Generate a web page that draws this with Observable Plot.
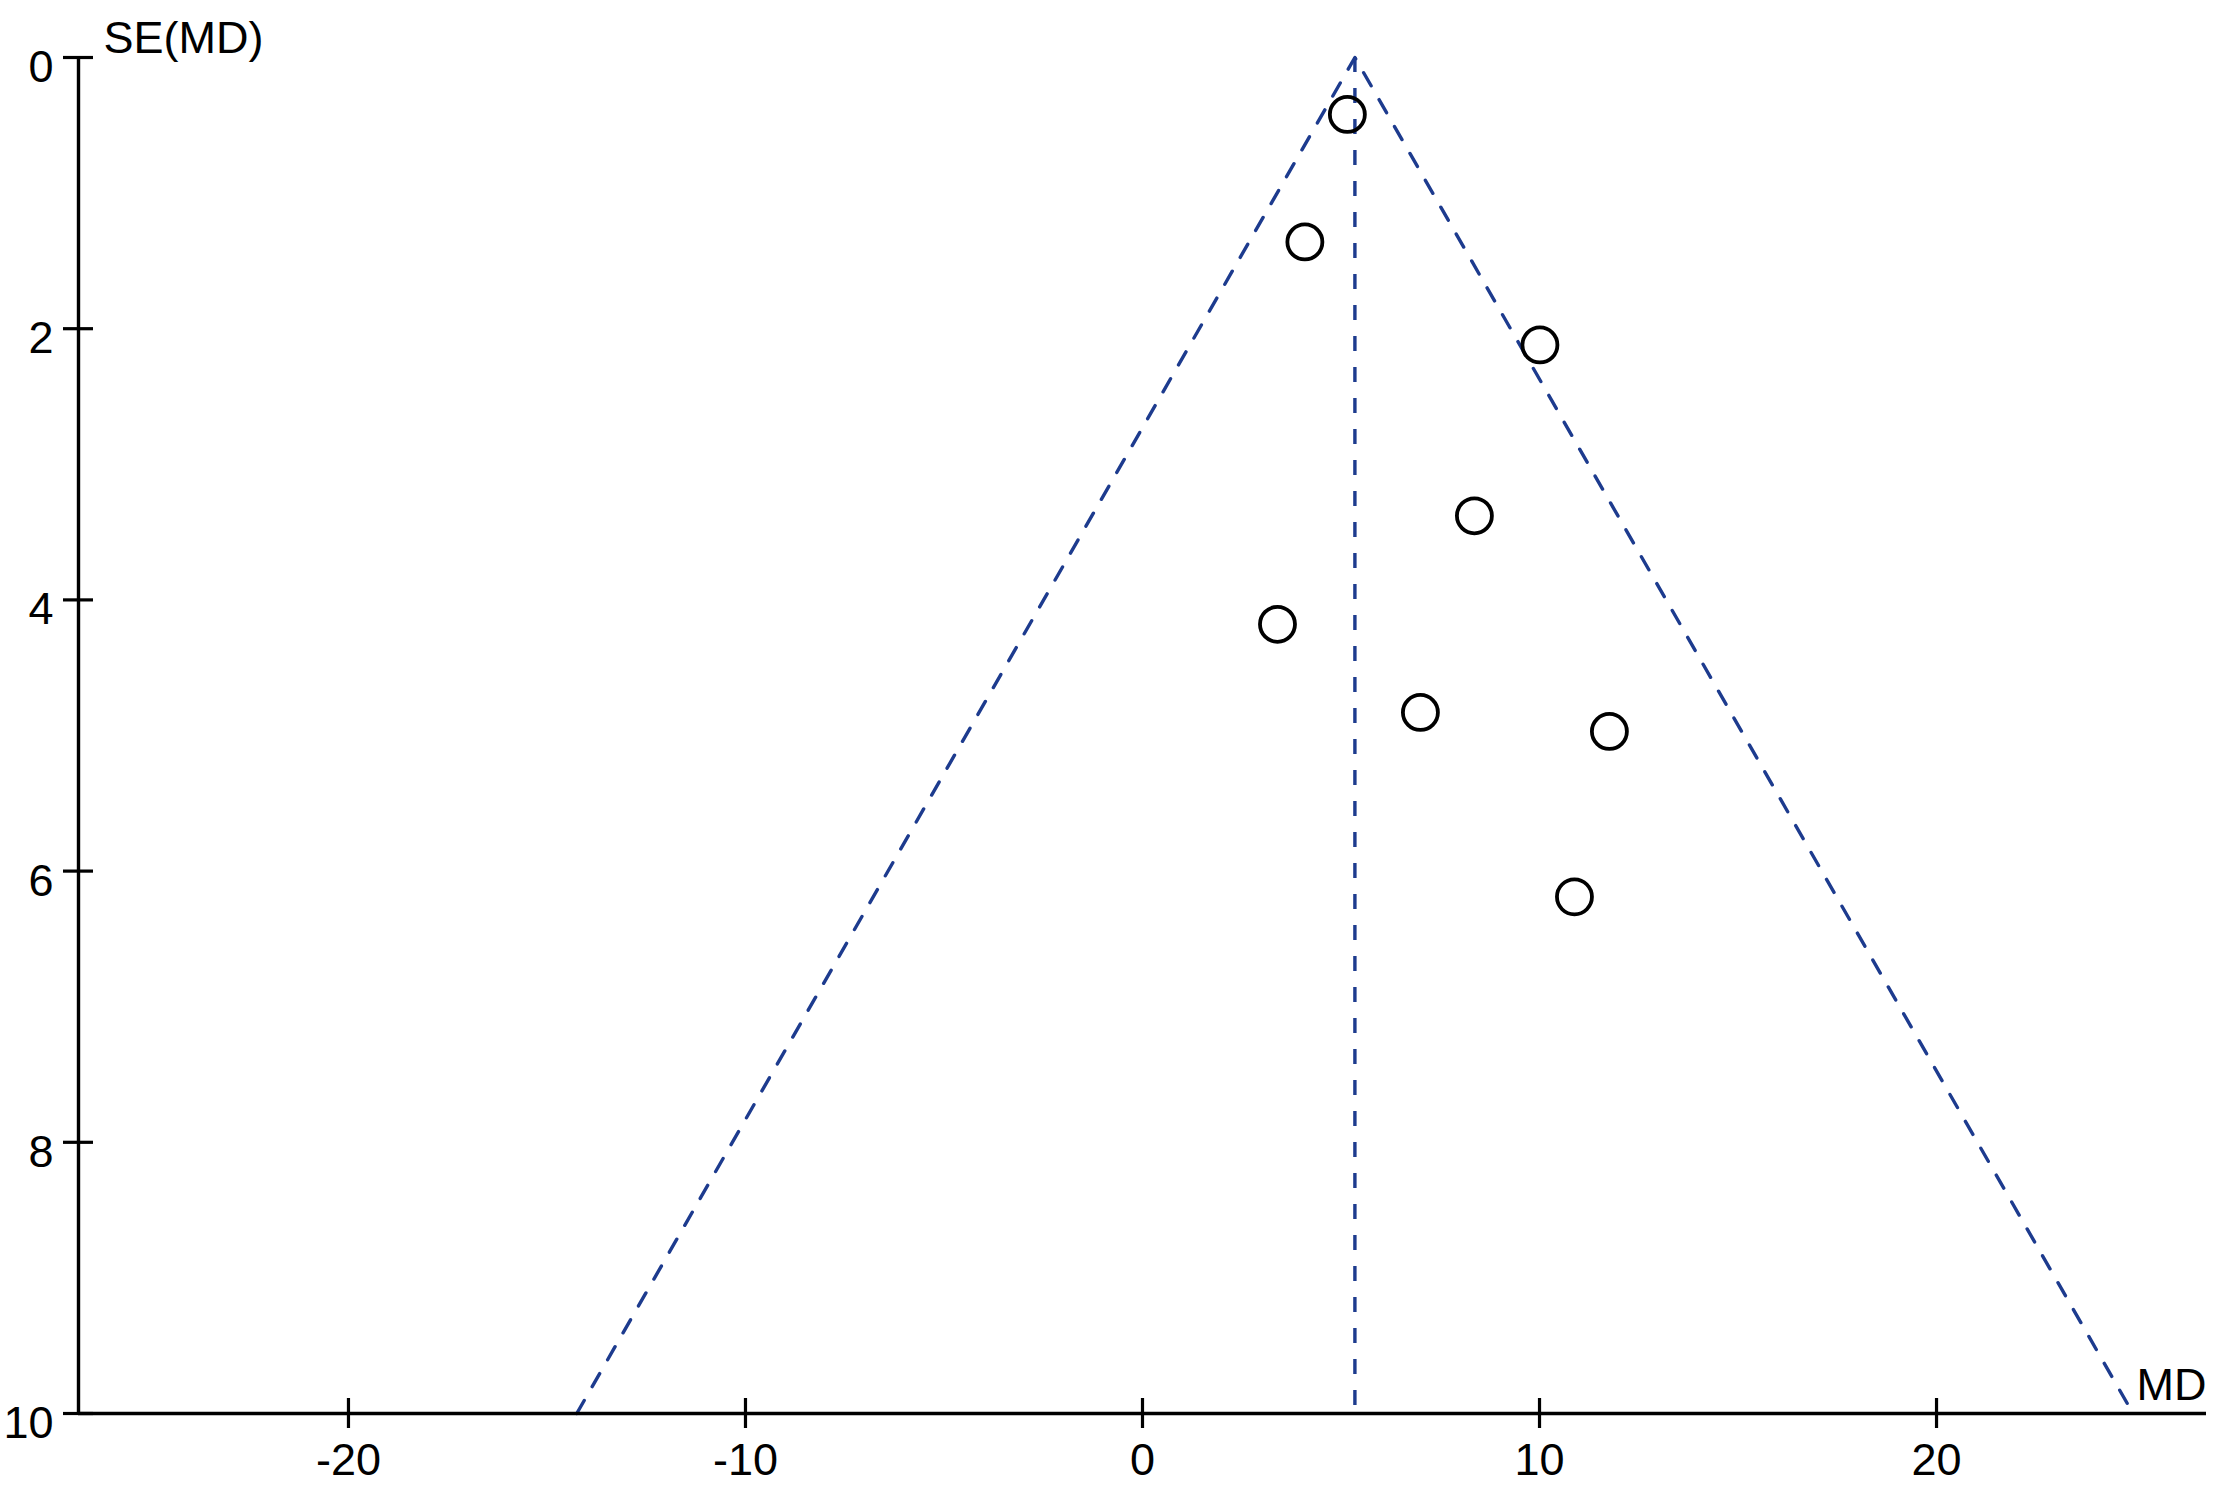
<!DOCTYPE html>
<html><head><meta charset="utf-8">
<script src="https://cdn.jsdelivr.net/npm/d3@7"></script>
<script src="https://cdn.jsdelivr.net/npm/@observablehq/plot@0.6"></script>
<style>html,body{margin:0;padding:0;background:#fff}</style>
</head><body><div id="chart"></div>
<script>
// Study estimates (mean difference) and their standard errors
const studyMD = [5.16, 4.09, 10.01, 8.36, 3.40, 7.00, 11.76, 10.88];
const studySE = [0.42, 1.36, 2.12, 3.38, 4.18, 4.83, 4.97, 6.19];
const pooledMD = 5.35;
const xTicks = [-20, -10, 0, 10, 20];
const yTicks = [0, 2, 4, 6, 8, 10];
const xDomain = [-26.8, 26.8];
const seMax = 10;
const z = 1.96;

const studies = studyMD.map((md, i) => ({md, se: studySE[i]}));
const funnel = [
  {md: pooledMD - z * seMax, se: seMax},
  {md: pooledMD, se: 0},
  {md: pooledMD + z * seMax, se: seMax}
];
const navy = "#1d3b8e";
const font = "'Liberation Sans', Arial, sans-serif";

const chart = Plot.plot({
  width: 2218, height: 1487,
  marginLeft: 78, marginRight: 12, marginTop: 57, marginBottom: 74,
  style: {fontFamily: font, fontSize: "45px", background: "white", color: "black", overflow: "visible"},
  x: {domain: xDomain},
  y: {domain: [0, seMax], reverse: true},
  marks: [
    Plot.axisX({ticks: xTicks, tickSize: 0, tickPadding: 30, tickFormat: d => `${d}`, label: null}),
    Plot.axisY({ticks: yTicks, tickSize: 0, tickPadding: 25, dy: 10, tickFormat: d => `${d}`, label: null}),
    Plot.line(funnel, {x: "md", y: "se", stroke: navy, strokeWidth: 3.4, strokeDasharray: "15,16"}),
    Plot.ruleX([pooledMD], {y1: 0, y2: seMax, stroke: navy, strokeWidth: 3.4, strokeDasharray: "15,16"}),
    Plot.ruleY([seMax], {x1: xDomain[0], x2: xDomain[1], stroke: "black", strokeWidth: 3.4}),
    Plot.ruleX([xDomain[0]], {y1: 0, y2: seMax, stroke: "black", strokeWidth: 3.4}),
    Plot.ruleX(xTicks, {x: d => d, y1: seMax, y2: seMax, insetTop: -15, insetBottom: -15, stroke: "black", strokeWidth: 3.2}),
    Plot.ruleY(yTicks, {y: d => d, x1: xDomain[0], x2: xDomain[0], insetLeft: -15, insetRight: -15, stroke: "black", strokeWidth: 3.2}),
    Plot.dot(studies, {x: "md", y: "se", r: 17.5, stroke: "black", strokeWidth: 3.8, fill: "none"}),
    Plot.text(["SE(MD)"], {x: xDomain[0], y: 0, text: d => d, dx: 25, dy: -5, textAnchor: "start", lineAnchor: "bottom", fill: "black"}),
    Plot.text(["MD"], {x: xDomain[1], y: seMax, text: d => d, dy: -14, textAnchor: "end", lineAnchor: "bottom", fill: "black"})
  ]
});
document.getElementById("chart").appendChild(chart);
</script>
</body></html>
